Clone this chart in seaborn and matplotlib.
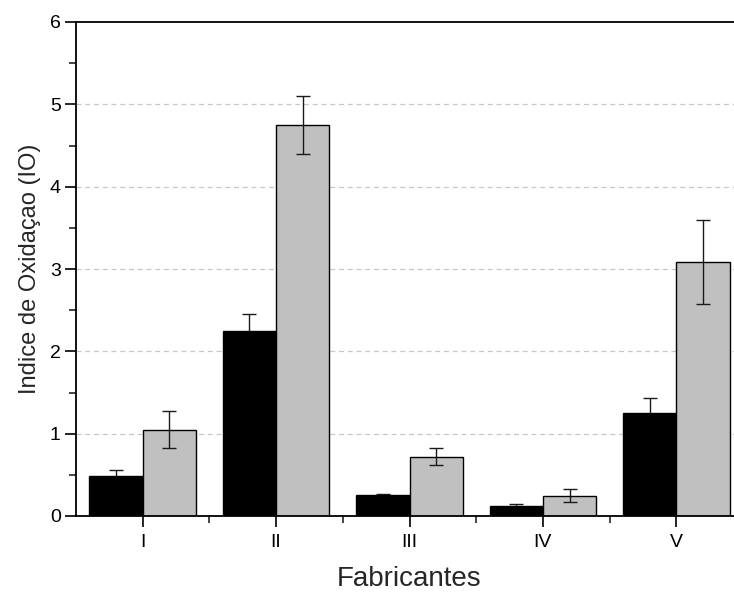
import matplotlib
matplotlib.use("Agg")
import matplotlib.pyplot as plt
import seaborn as sns
import numpy as np
import pandas as pd
from matplotlib.ticker import MultipleLocator

# dados
fabricantes = ['I', 'II', 'III', 'IV', 'V']
io_preto = [0.48, 2.25, 0.25, 0.125, 1.25]
erro_preto = [0.08, 0.20, 0.02, 0.025, 0.18]
io_cinza = [1.05, 4.75, 0.72, 0.245, 3.08]
erro_cinza = [0.23, 0.35, 0.10, 0.08, 0.51]

df = pd.DataFrame({
    'fab': fabricantes * 2,
    'serie': ['A'] * 5 + ['B'] * 5,
    'io': io_preto + io_cinza,
    'erro': erro_preto + erro_cinza,
})

sns.set_style('ticks')
plt.rcParams['font.family'] = ['Liberation Sans', 'DejaVu Sans']

fig = plt.figure(figsize=(7.34, 5.92), dpi=100)
ax = fig.add_axes([76 / 734, 76 / 592, (743 - 76) / 734, (516 - 22) / 592])

sns.barplot(data=df, x='fab', y='io', hue='serie', order=fabricantes,
            palette={'A': 'black', 'B': '#c0c0c0'}, edgecolor='black',
            linewidth=1.0, errorbar=None, width=0.8, saturation=1,
            legend=False, ax=ax, zorder=2)

# barras de erro nas posições das barras (as das barras pretas ficam atrás)
for p, (_, row) in zip(ax.patches, df.iterrows()):
    xc = p.get_x() + p.get_width() / 2
    z = 1.5 if row['serie'] == 'A' else 3
    ax.errorbar(xc, row['io'], yerr=row['erro'], fmt='none', ecolor='#1a1a1a',
                elinewidth=1.0, capsize=5, capthick=1.0, zorder=z)

ax.set_ylim(0, 6)
ax.set_xlim(-0.5, 4.5)
ax.yaxis.set_major_locator(MultipleLocator(1))
ax.yaxis.set_minor_locator(MultipleLocator(0.5))
ax.set_xticks(range(5))
ax.set_xticks(np.arange(0.5, 4.5, 1), minor=True)
ax.set_xticklabels(fabricantes)

for v in range(1, 6):
    ax.axhline(v, color='#c8c8c8', lw=0.9, ls=(0, (4, 3)), zorder=0)

ax.tick_params(which='major', direction='out', length=8, width=1.2,
               labelsize=14, pad=3, colors='black')
ax.tick_params(which='minor', direction='out', length=5, width=1.2)
ax.tick_params(axis='x', which='major', pad=5)

for s in ['left', 'bottom', 'top']:
    ax.spines[s].set_linewidth(1.3)
    ax.spines[s].set_color('black')
ax.spines['right'].set_visible(False)
ax.spines['top'].set_visible(True)

ax.set_ylabel('Indice de Oxidaçao (IO)', fontsize=17, labelpad=6)
ax.set_xlabel('Fabricantes', fontsize=20, labelpad=11)

fig.savefig('out.png', dpi=100)
